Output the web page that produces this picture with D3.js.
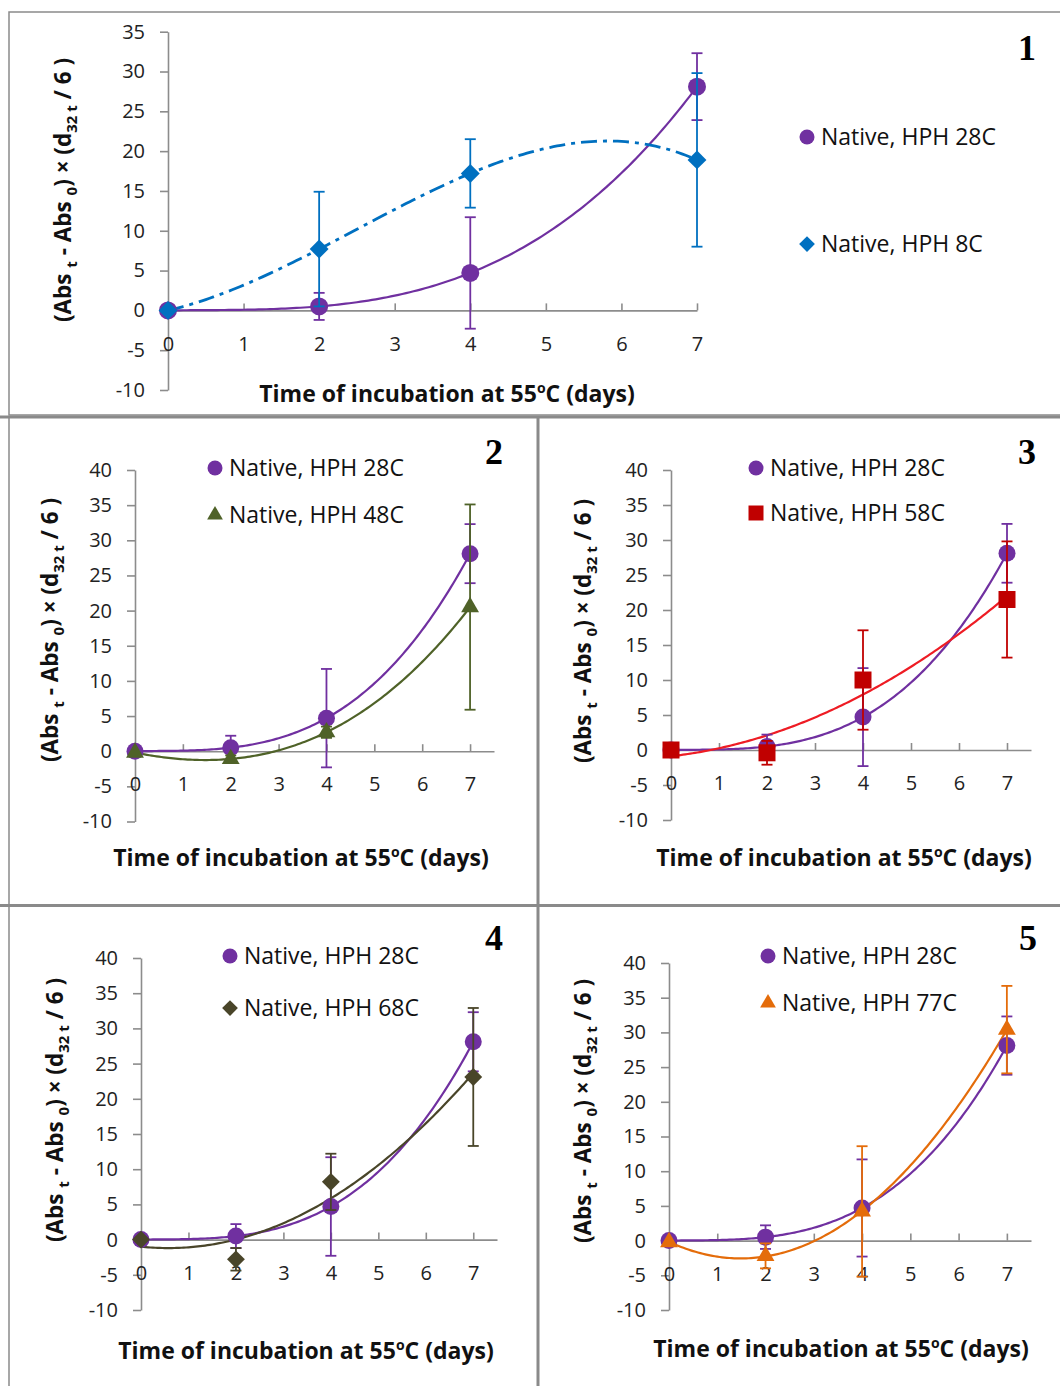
<!DOCTYPE html>
<html>
<head>
<meta charset="utf-8">
<title>Native vs HPH incubation panels</title>
<script src="https://d3js.org/d3.v7.min.js"></script>
<style>
  body { margin: 0; background: #fff; }
  svg { display: block; font-family: "Open Sans", Lato, sans-serif; }
  .axis path, .axis line { stroke: #8c8c8c; stroke-width: 1.6; }
  .axis text { font-size: 20px; fill: #222; font-family: "Open Sans", sans-serif; }
  .axis-title { font-size: 23px; font-weight: bold; fill: #111; }
  .y-title { font-size: 22.5px; }
  .legend-text { font-size: 23px; fill: #111; }
  .panel-num { font-family: "Liberation Serif", "DejaVu Serif", serif; font-weight: bold; font-size: 36px; fill: #000; }
  .frame { fill: none; stroke: #8a8a8a; }
</style>
</head>
<body>
<svg width="1060" height="1386"></svg>
<script>
// ---- data ----
var days = [0, 2, 4, 7];

var native28 = [0, 0.5, 4.7, 28.1];
var native28Err = [0, 1.7, 7.0, 4.2];

var hph8 = [0, 7.7, 17.2, 18.9];
var hph8Err = [0, 7.2, 4.3, 10.9];

var hph48 = [-0.2, -1.1, 2.7, 20.5];
var hph48Err = [0, 0.5, 0.8, 14.6];

var hph58 = [0, -0.4, 10.0, 21.5];
var hph58Err = [0, 1.7, 7.1, 8.3];

var hph68 = [0, -2.8, 8.2, 23.1];
var hph68Err = [0, 1.6, 4.0, 9.8];

var hph77 = [-0.2, -2.2, 4.2, 30.4];
var hph77Err = [0, 1.8, 9.4, 6.3];

var xTicks = [0, 1, 2, 3, 4, 5, 6, 7];
var yTicks1 = [-10, -5, 0, 5, 10, 15, 20, 25, 30, 35];
var yTicks = [-10, -5, 0, 5, 10, 15, 20, 25, 30, 35, 40];

var panelLabels = ['1', '2', '3', '4', '5'];

// series definitions (trend = polynomial trendline order, as in Excel)
var sNative = { name: 'Native, HPH 28C', vals: native28, err: native28Err, color: '#7030A0', line: '#7030A0', marker: 'circle', trend: 3 };
var s8  = { name: 'Native, HPH 8C',  vals: hph8,  err: hph8Err,  color: '#0070C0', line: '#0070C0', marker: 'diamond', trend: 3, dash: '16,6,4,6' };
var s48 = { name: 'Native, HPH 48C', vals: hph48, err: hph48Err, color: '#4F6228', line: '#4F6228', marker: 'triangle', trend: 3 };
var s58 = { name: 'Native, HPH 58C', vals: hph58, err: hph58Err, color: '#C00000', line: '#EE1C24', marker: 'square', trend: 2 };
var s68 = { name: 'Native, HPH 68C', vals: hph68, err: hph68Err, color: '#494529', line: '#494529', marker: 'diamond', trend: 2 };
var s77 = { name: 'Native, HPH 77C', vals: hph77, err: hph77Err, color: '#E46C0A', line: '#E46C0A', marker: 'triangle', trend: 2 };

// layout of each panel (pixels)
var panels = [
  { label: panelLabels[0], series: [sNative, s8], yTicks: yTicks1, yMax: 35, xMax: 7,
    left: 168, right: 697, top: 31.7, bottom: 390, mr: 9,
    legend: { x: 807, y: 137, dy: 107 }, num: [1027, 48],
    yTitle: [63, 190], xTitle: [447, 394] },
  { label: panelLabels[1], series: [sNative, s48], yTicks: yTicks, yMax: 40, xMax: 7.5,
    left: 135, right: 494, top: 470, bottom: 821.5, mr: 8.5,
    legend: { x: 215, y: 468, dy: 47 }, num: [494, 452],
    yTitle: [50, 630], xTitle: [301, 858] },
  { label: panelLabels[2], series: [sNative, s58], yTicks: yTicks, yMax: 40, xMax: 7.5,
    left: 671, right: 1031, top: 470, bottom: 820, mr: 8.5,
    legend: { x: 756, y: 468, dy: 45 }, num: [1027, 452],
    yTitle: [583, 631], xTitle: [844, 858] },
  { label: panelLabels[3], series: [sNative, s68], yTicks: yTicks, yMax: 40, xMax: 7.5,
    left: 141, right: 497, top: 958, bottom: 1310, mr: 8.5,
    legend: { x: 230, y: 956, dy: 52 }, num: [494, 938],
    yTitle: [55, 1110], xTitle: [306, 1351] },
  { label: panelLabels[4], series: [sNative, s77], yTicks: yTicks, yMax: 40, xMax: 7.5,
    left: 669, right: 1031, top: 963, bottom: 1310, mr: 8.5,
    legend: { x: 768, y: 956, dy: 47 }, num: [1028, 938],
    yTitle: [583, 1111], xTitle: [841, 1349] }
];

var svg = d3.select('svg');

// ---- frames ----
var frames = svg.append('g');
frames.append('rect').attr('class', 'frame').attr('x', 9).attr('y', 12).attr('width', 1060).attr('height', 403).attr('stroke-width', 1.5);
frames.append('line').attr('class', 'frame').attr('x1', 0).attr('x2', 1060).attr('y1', 417).attr('y2', 417).attr('stroke-width', 3);
frames.append('line').attr('class', 'frame').attr('x1', 0).attr('x2', 1060).attr('y1', 905.5).attr('y2', 905.5).attr('stroke-width', 3);
frames.append('line').attr('class', 'frame').attr('x1', 9).attr('x2', 9).attr('y1', 417).attr('y2', 1386).attr('stroke-width', 1.5);
frames.append('line').attr('class', 'frame').attr('x1', 538).attr('x2', 538).attr('y1', 417).attr('y2', 1386).attr('stroke-width', 3);

// least squares polynomial fit -> function
function polyfit(xs, ys, order) {
  var n = order + 1;
  var A = [], b = [];
  for (var i = 0; i < n; i++) {
    A.push([]);
    for (var j = 0; j < n; j++) {
      A[i].push(d3.sum(xs, function(x) { return Math.pow(x, i + j); }));
    }
    b.push(d3.sum(xs, function(x, k) { return Math.pow(x, i) * ys[k]; }));
  }
  for (var c = 0; c < n; c++) {
    var p = c;
    for (var r = c + 1; r < n; r++) if (Math.abs(A[r][c]) > Math.abs(A[p][c])) p = r;
    var t = A[c]; A[c] = A[p]; A[p] = t;
    var tb = b[c]; b[c] = b[p]; b[p] = tb;
    for (var r2 = c + 1; r2 < n; r2++) {
      var f = A[r2][c] / A[c][c];
      for (var k = c; k < n; k++) A[r2][k] -= f * A[c][k];
      b[r2] -= f * b[c];
    }
  }
  var coef = new Array(n).fill(0);
  for (var r3 = n - 1; r3 >= 0; r3--) {
    var s = b[r3];
    for (var k2 = r3 + 1; k2 < n; k2++) s -= A[r3][k2] * coef[k2];
    coef[r3] = s / A[r3][r3];
  }
  return function(x) { return d3.sum(coef, function(cf, i) { return cf * Math.pow(x, i); }); };
}

function markerPath(type, r) {
  if (type === 'circle') return d3.symbol(d3.symbolCircle, Math.PI * r * r)();
  if (type === 'square') return d3.symbol(d3.symbolSquare, Math.pow(r * 2, 2))();
  if (type === 'triangle') return d3.symbol(d3.symbolTriangle, Math.pow(r * 2.1, 2) * 0.433)();
  // diamond: square turned 45deg
  var h = r * 1.05;
  return 'M0,' + (-h) + 'L' + h + ',0L0,' + h + 'L' + (-h) + ',0Z';
}

// plain hyphen minus like the original, no decimals
var fmt = function(d) { return String(d); };

panels.forEach(function(p) {
  var g = svg.append('g');
  var x = d3.scaleLinear().domain([0, p.xMax]).range([p.left, p.right]);
  var y = d3.scaleLinear().domain([-10, p.yMax]).range([p.bottom, p.top]);

  // y axis
  g.append('g').attr('class', 'axis')
    .attr('transform', 'translate(' + p.left + ',0)')
    .call(d3.axisLeft(y).tickValues(p.yTicks).tickFormat(fmt).tickSizeInner(8).tickSizeOuter(0).tickPadding(15));

  // x axis sits on y = 0, ticks point up
  g.append('g').attr('class', 'axis')
    .attr('transform', 'translate(0,' + y(0) + ')')
    .call(d3.axisBottom(x).tickValues(xTicks).tickFormat(fmt).tickSizeInner(-7).tickSizeOuter(0).tickPadding(26));

  // trendlines
  var samples = d3.range(0, 7.0001, 0.05);
  p.series.forEach(function(s) {
    var fit = polyfit(days, s.vals, s.trend);
    g.append('path')
      .attr('d', d3.line().x(function(t) { return x(t); }).y(function(t) { return y(fit(t)); })(samples))
      .attr('fill', 'none')
      .attr('stroke', s.line)
      .attr('stroke-width', s.dash ? 2.8 : 2.2)
      .attr('stroke-dasharray', s.dash || null);
  });

  // error bars + markers
  p.series.forEach(function(s) {
    var pts = days.map(function(d, i) { return { d: d, v: s.vals[i], e: s.err[i] }; });
    var eb = g.append('g').attr('stroke', s.color).attr('stroke-width', 1.8);
    pts.filter(function(q) { return q.e > 0; }).forEach(function(q) {
      var cx = x(q.d);
      eb.append('line').attr('x1', cx).attr('x2', cx).attr('y1', y(q.v - q.e)).attr('y2', y(q.v + q.e));
      eb.append('line').attr('x1', cx - 5.5).attr('x2', cx + 5.5).attr('y1', y(q.v - q.e)).attr('y2', y(q.v - q.e));
      eb.append('line').attr('x1', cx - 5.5).attr('x2', cx + 5.5).attr('y1', y(q.v + q.e)).attr('y2', y(q.v + q.e));
    });
    g.append('g').selectAll('path').data(pts).enter().append('path')
      .attr('transform', function(q) { return 'translate(' + x(q.d) + ',' + y(q.v) + ')'; })
      .attr('d', markerPath(s.marker, p.mr))
      .attr('fill', s.color);
  });

  // legend
  p.series.forEach(function(s, i) {
    var ly = p.legend.y + i * p.legend.dy;
    g.append('path')
      .attr('transform', 'translate(' + p.legend.x + ',' + ly + ')')
      .attr('d', markerPath(s.marker, 7.5))
      .attr('fill', s.color);
    g.append('text').attr('class', 'legend-text')
      .attr('x', p.legend.x + 14).attr('y', ly + 8)
      .text(s.name);
  });

  // panel number
  g.append('text').attr('class', 'panel-num')
    .attr('x', p.num[0]).attr('y', p.num[1])
    .attr('text-anchor', 'middle').attr('dominant-baseline', 'central')
    .text(p.label);

  // x title
  var xt = g.append('text').attr('class', 'axis-title')
    .attr('x', p.xTitle[0]).attr('y', p.xTitle[1] + 8)
    .attr('text-anchor', 'middle');
  xt.append('tspan').text('Time of incubation at 55');
  xt.append('tspan').attr('font-size', 14).attr('dy', -9).text('o');
  xt.append('tspan').attr('dy', 9).text('C (days)');

  // y title with subscripts
  var yt = g.append('text').attr('class', 'axis-title y-title')
    .attr('transform', 'translate(' + (p.yTitle[0] + 8) + ',' + p.yTitle[1] + ') rotate(-90)')
    .attr('text-anchor', 'middle');
  yt.append('tspan').text('(Abs ');
  yt.append('tspan').attr('font-size', 15).attr('dy', 6).text('t');
  yt.append('tspan').attr('dy', -6).text(' - Abs ');
  yt.append('tspan').attr('font-size', 15).attr('dy', 6).text('0');
  yt.append('tspan').attr('dy', -6).text(') \u00d7 (d');
  yt.append('tspan').attr('font-size', 15).attr('dy', 6).text('32 t');
  yt.append('tspan').attr('dy', -6).text(' / 6 )');
});
</script>
</body>
</html>
